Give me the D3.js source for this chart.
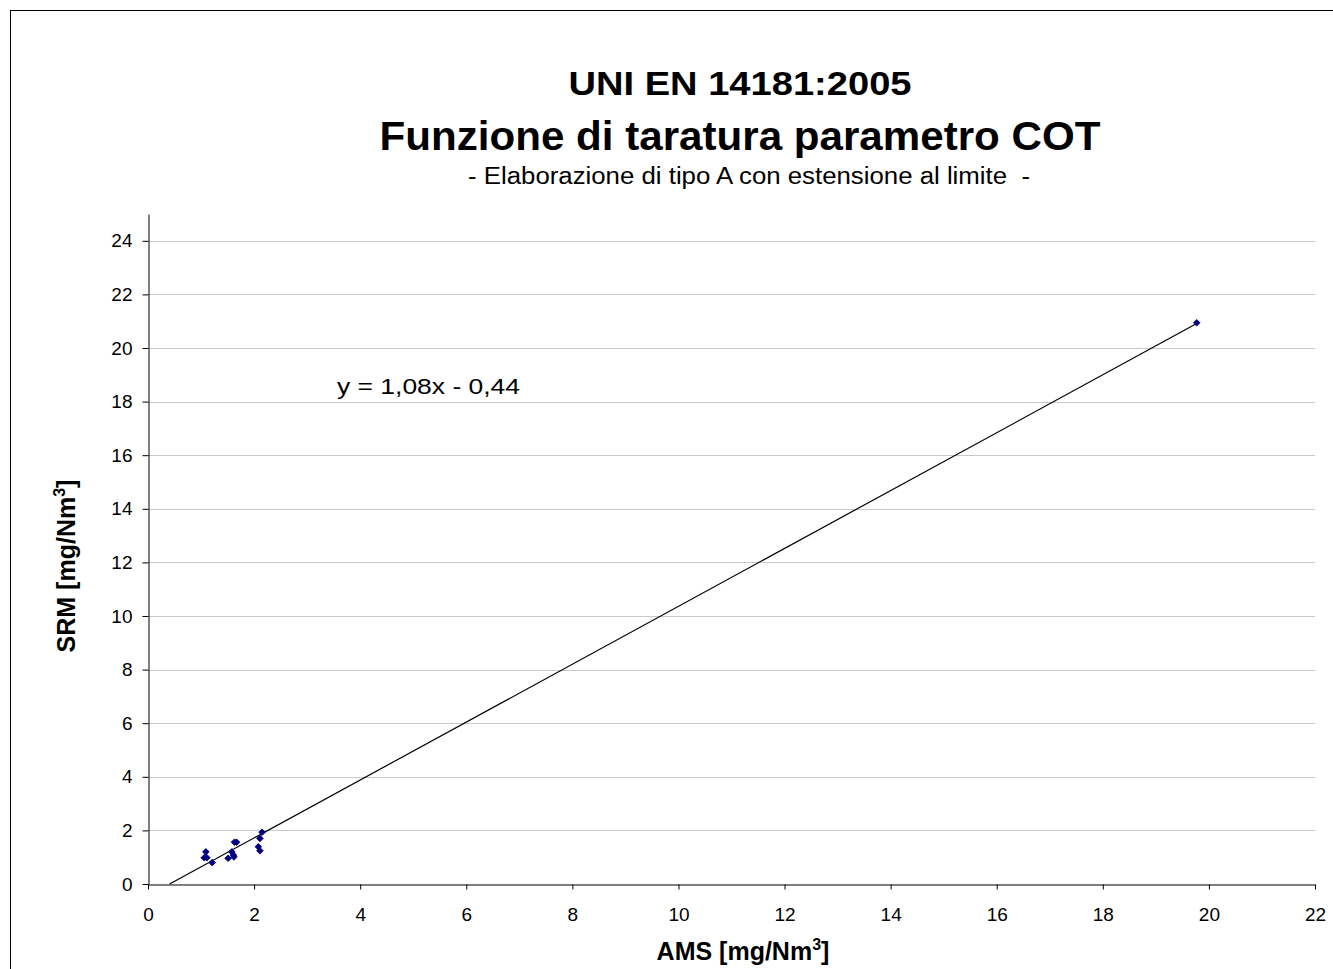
<!DOCTYPE html>
<html>
<head>
<meta charset="utf-8">
<script src="https://cdn.jsdelivr.net/npm/d3@7"></script>
<style>
  body { margin: 0; background: #fff; }
  svg { display: block; font-family: "Liberation Sans", Arial, sans-serif; }
</style>
</head>
<body>
<svg id="chart" width="1333" height="969"></svg>
<script>
// data (AMS vs SRM, mg/Nm3)
const amsValues = [1.09, 1.06, 1.11, 1.21, 1.63, 1.67, 1.58, 1.61, 1.62, 1.51, 2.15, 2.11, 2.08, 2.11, 19.77];
const srmValues = [1.20, 0.98, 0.98, 0.80, 1.56, 1.56, 1.20, 1.08, 1.01, 0.96, 1.93, 1.70, 1.39, 1.24, 20.94];
const xTicks = [0, 2, 4, 6, 8, 10, 12, 14, 16, 18, 20, 22];
const yTicks = [0, 2, 4, 6, 8, 10, 12, 14, 16, 18, 20, 22, 24];
const slope = 1.08;
const intercept = -0.44;

const points = amsValues.map((a, i) => ({ x: a, y: srmValues[i] }));

const svg = d3.select('#chart');

// chart frame (runs off the right/bottom of the picture)
svg.append('rect')
    .attr('x', 10.5).attr('y', 10.5)
    .attr('width', 1400).attr('height', 1000)
    .attr('fill', 'none').attr('stroke', '#000').attr('stroke-width', 1);

const x = d3.scaleLinear().domain([0, 22]).range([148, 1315]);
const y = d3.scaleLinear().domain([0, 25]).range([884, 214]);

// gridlines
svg.append('g')
    .selectAll('line')
    .data(yTicks.filter(t => t > 0))
    .enter()
    .append('line')
    .attr('x1', x(0)).attr('x2', x(22))
    .attr('y1', d => Math.round(y(d)) + 0.5).attr('y2', d => Math.round(y(d)) + 0.5)
    .attr('stroke', '#c8c8c8').attr('stroke-width', 1);

// axes
const xAxis = svg.append('g')
    .attr('transform', `translate(0, ${Math.round(y(0)) + 0.5})`)
    .call(d3.axisBottom(x).tickValues(xTicks).tickSize(5).tickPadding(18).tickSizeOuter(0));
const yAxis = svg.append('g')
    .attr('transform', `translate(${Math.round(x(0)) + 0.5}, 0)`)
    .call(d3.axisLeft(y).tickValues(yTicks).tickSize(6).tickPadding(10).tickSizeOuter(0));

[xAxis, yAxis].forEach(a => {
    a.selectAll('text')
        .style('font-family', '"Liberation Sans", Arial, sans-serif')
        .style('font-size', '19px')
        .attr('fill', '#000');
    a.selectAll('line, path').attr('stroke', '#000');
});

// trend line, from y = 0 to the largest AMS value
const xStart = -intercept / slope;
const xEnd = d3.max(amsValues);
svg.append('line')
    .attr('x1', x(xStart)).attr('y1', y(slope * xStart + intercept))
    .attr('x2', x(xEnd)).attr('y2', y(slope * xEnd + intercept))
    .attr('stroke', '#000').attr('stroke-width', 1.2);

// markers: small navy diamonds (rotated squares)
svg.append('g')
    .selectAll('path')
    .data(points)
    .enter()
    .append('path')
    .attr('d', d3.symbol().type(d3.symbolSquare).size(22))
    .attr('transform', d => `translate(${x(d.x)}, ${y(d.y)}) rotate(45)`)
    .attr('fill', '#000080')
    .attr('stroke', '#000080').attr('stroke-width', 0.8);

// equation label
svg.append('text')
    .attr('x', 337).attr('y', 394)
    .attr('font-size', 22)
    .attr('textLength', 183).attr('lengthAdjust', 'spacingAndGlyphs')
    .text('y = 1,08x - 0,44');

// titles
const titles = [
    { text: 'UNI EN 14181:2005', y: 95, size: 34, weight: 'bold', len: 343, cx: 740 },
    { text: 'Funzione di taratura parametro COT', y: 150, size: 41, weight: 'bold', len: 721, cx: 740 },
    { text: '- Elaborazione di tipo A con estensione al limite  -', y: 184, size: 23, weight: 'normal', len: 562, cx: 749 }
];
svg.append('g')
    .selectAll('text')
    .data(titles)
    .enter()
    .append('text')
    .attr('x', d => d.cx - d.len / 2).attr('y', d => d.y)
    .attr('font-size', d => d.size).attr('font-weight', d => d.weight)
    .attr('textLength', d => d.len).attr('lengthAdjust', 'spacingAndGlyphs')
    .style('white-space', 'pre')
    .text(d => d.text);

// axis titles
const xTitle = svg.append('text')
    .attr('x', 743).attr('y', 960)
    .attr('text-anchor', 'middle')
    .attr('font-size', 25).attr('font-weight', 'bold');
xTitle.append('tspan').text('AMS [mg/Nm');
xTitle.append('tspan').attr('font-size', 16).attr('dy', -10).text('3');
xTitle.append('tspan').attr('dy', 10).text(']');

const yTitle = svg.append('text')
    .attr('transform', 'translate(75, 566) rotate(-90)')
    .attr('text-anchor', 'middle')
    .attr('font-size', 25).attr('font-weight', 'bold');
yTitle.append('tspan').text('SRM [mg/Nm');
yTitle.append('tspan').attr('font-size', 16).attr('dy', -10).text('3');
yTitle.append('tspan').attr('dy', 10).text(']');
</script>
</body>
</html>
